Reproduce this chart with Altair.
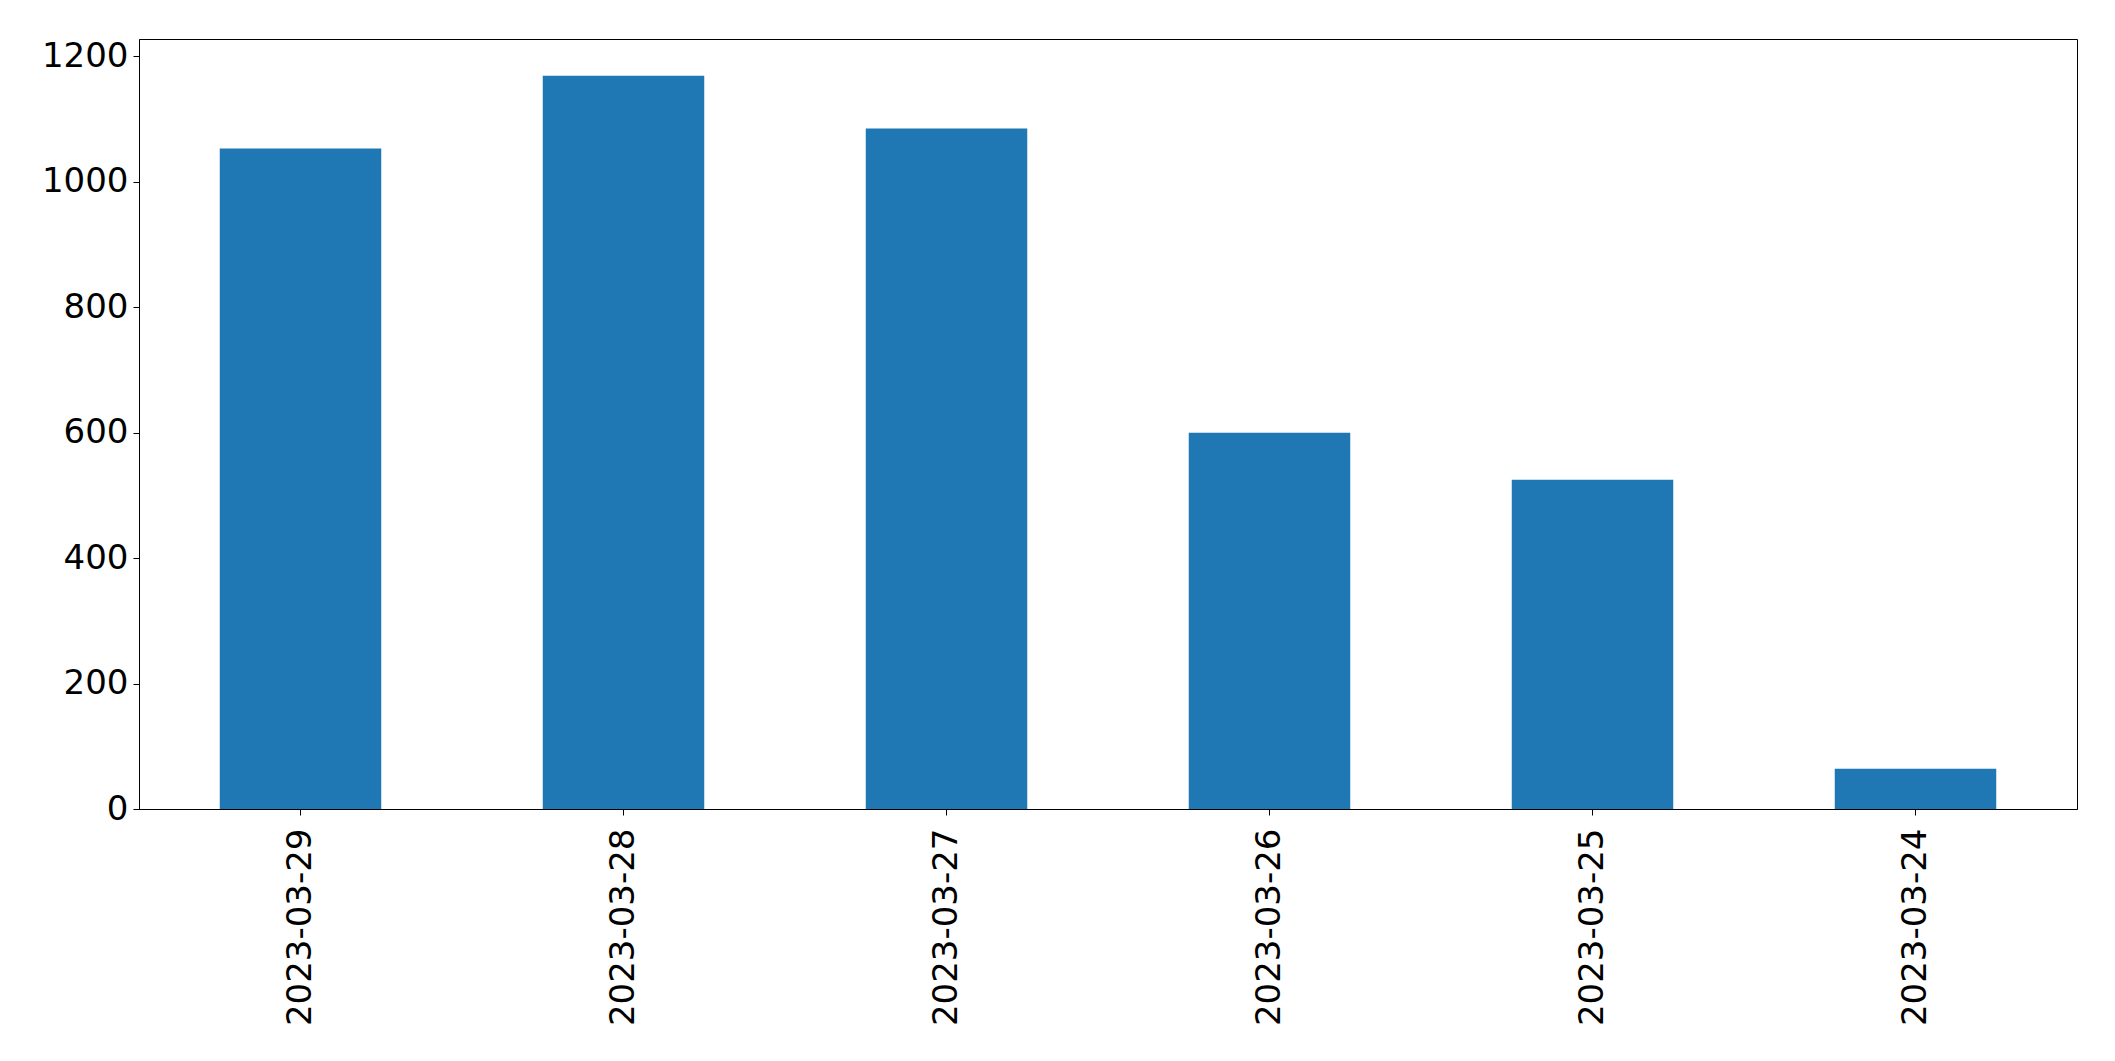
import altair as alt
import pandas as pd

dates = ["2023-03-29", "2023-03-28", "2023-03-27", "2023-03-26", "2023-03-25", "2023-03-24"]
counts = [1053, 1169, 1085, 600, 525, 64]
y_ticks = [0, 200, 400, 600, 800, 1000, 1200]

df = pd.DataFrame({"date": dates, "count": counts})

FONT = "DejaVu Sans"

chart = (
    alt.Chart(df)
    .mark_bar(color="#1f77b4")
    .encode(
        x=alt.X(
            "date:N",
            sort=None,
            title=None,
            scale=alt.Scale(paddingInner=0.5, paddingOuter=0.25),
            axis=alt.Axis(
                labelAngle=270,
                labelFont=FONT,
                labelFontSize=34,
                labelColor="black",
                labelPadding=13,
                labelLimit=1000,
                tickSize=6,
                tickColor="black",
                domainColor="black",
                grid=False,
            ),
        ),
        y=alt.Y(
            "count:Q",
            title=None,
            scale=alt.Scale(domain=[0, 1227.5], nice=False, zero=True),
            axis=alt.Axis(
                values=y_ticks,
                format="d",
                labelFont=FONT,
                labelFontSize=34,
                labelColor="black",
                labelPadding=5,
                labelLimit=1000,
                tickSize=6,
                tickColor="black",
                domainColor="black",
                grid=False,
            ),
        ),
    )
    .properties(
        width=1938,
        height=770,
        background="white",
        autosize=alt.AutoSizeParams(type="none"),
        padding={"left": 131, "top": 31, "right": 30, "bottom": 240},
    )
    .configure_view(stroke="black", strokeWidth=1)
)

chart.save("out.html", embed_options={"renderer": "svg", "actions": False})
